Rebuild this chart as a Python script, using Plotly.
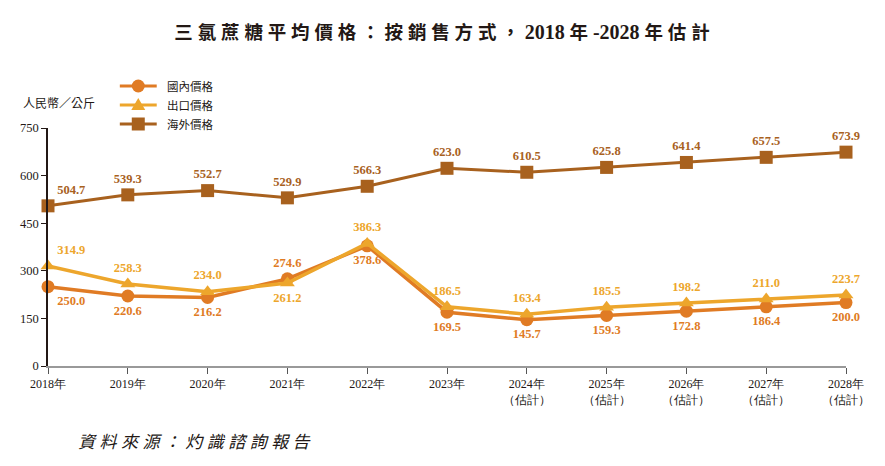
import plotly.graph_objects as go

years = ["2018年", "2019年", "2020年", "2021年", "2022年", "2023年",
         "2024年<br>（估計）", "2025年<br>（估計）", "2026年<br>（估計）",
         "2027年<br>（估計）", "2028年<br>（估計）"]
domestic = [250.0, 220.6, 216.2, 274.6, 378.6, 169.5, 145.7, 159.3, 172.8, 186.4, 200.0]
export = [314.9, 258.3, 234.0, 261.2, 386.3, 186.5, 163.4, 185.5, 198.2, 211.0, 223.7]
overseas = [504.7, 539.3, 552.7, 529.9, 566.3, 623.0, 610.5, 625.8, 641.4, 657.5, 673.9]

dom_pos = ["bottom right", "bottom center", "bottom center", "top center", "bottom center",
           "bottom center", "bottom center", "bottom center", "bottom center", "bottom center", "bottom center"]
exp_pos = ["top right", "top center", "top center", "bottom center", "top center",
           "top center", "top center", "top center", "top center", "top center", "top center"]
ovs_pos = ["top right"] + ["top center"] * 10

C_DOM = "#E07B24"
C_EXP = "#EDA62C"
C_OVS = "#A8611E"
SERIF = "Liberation Serif, DejaVu Serif, serif"
CJK = "Noto Sans CJK TC, Noto Sans CJK SC, sans-serif"

# plot area in page pixels (page is offset by the body margin)
L, R, T, B = 38, 47, 120, 108
PW, PH = 885 - L - R, 466 - T - B
OFF = 8


def px(xp):
    return (xp - OFF - L) / PW


def py(yp):
    return (466 - B - (yp - OFF)) / PH


x = list(range(len(years)))
fig = go.Figure()

fig.add_trace(go.Scatter(
    x=x, y=overseas, name="海外價格", mode="lines+markers+text",
    line=dict(color=C_OVS, width=3), marker=dict(symbol="square", size=13, color=C_OVS),
    text=[f"{v:.1f}" for v in overseas], textposition=ovs_pos,
    textfont=dict(family=SERIF, size=12.5, color=C_OVS, weight="bold"), cliponaxis=False))
fig.add_trace(go.Scatter(
    x=x, y=domestic, name="國內價格", mode="lines+markers+text",
    line=dict(color=C_DOM, width=3.5), marker=dict(symbol="circle", size=13, color=C_DOM),
    text=[f"{v:.1f}" for v in domestic], textposition=dom_pos,
    textfont=dict(family=SERIF, size=12.5, color=C_DOM, weight="bold"), cliponaxis=False))
fig.add_trace(go.Scatter(
    x=x, y=export, name="出口價格", mode="lines+markers+text",
    line=dict(color=C_EXP, width=3.5), marker=dict(symbol="triangle-up", size=13, color=C_EXP),
    text=[f"{v:.1f}" for v in export], textposition=exp_pos,
    textfont=dict(family=SERIF, size=12.5, color=C_EXP, weight="bold"), cliponaxis=False))

sp = "\u2009\u200a"
title_head = sp.join("三氯蔗糖平均價格：按銷售方式，")
title_tail = (sp + "<span style='font-family:Liberation Serif;font-size:20px'>2018</span>" + sp + "年" + sp
              + "<span style='font-family:Liberation Serif;font-size:20px'>-2028</span>" + sp
              + sp.join("年估計"))

fig.update_layout(
    width=885, height=466,
    paper_bgcolor="white", plot_bgcolor="white",
    margin=dict(l=L, r=R, t=T, b=B),
    showlegend=False,
    title=dict(text=title_head + title_tail, x=(442 - OFF) / 885, xanchor="center",
               y=1 - (33 - OFF) / 466, yanchor="middle",
               font=dict(family=CJK, size=18.5, color="#231815", weight="bold")),
    xaxis=dict(range=[0, 10], tickvals=x, ticktext=years, showgrid=False,
               showline=True, linecolor="#999999", linewidth=2,
               ticks="outside", ticklen=6, tickcolor="#555555",
               tickfont=dict(family=SERIF, size=12, color="#231815"), zeroline=False),
    yaxis=dict(range=[0, 750], tickvals=[0, 150, 300, 450, 600, 750], showgrid=False,
               showline=True, linecolor="#231815", linewidth=1.5,
               ticks="outside", ticklen=5, tickcolor="#231815",
               tickfont=dict(family=SERIF, size=12.5, color="#231815"), zeroline=False),
)

# legend drawn manually
legend_items = [("國內價格", C_DOM, "circle"), ("出口價格", C_EXP, "triangle"), ("海外價格", C_OVS, "square")]
for i, (name, col, sym) in enumerate(legend_items):
    yy = 86 + i * 19
    fig.add_shape(type="line", xref="paper", yref="paper",
                  x0=px(118), x1=px(155), y0=py(yy), y1=py(yy),
                  line=dict(color=col, width=3))
    common = dict(xref="paper", yref="paper", xsizemode="pixel", ysizemode="pixel",
                  xanchor=px(136.5), yanchor=py(yy), fillcolor=col, line=dict(width=0))
    if sym == "circle":
        fig.add_shape(type="circle", x0=-6.5, x1=6.5, y0=-6.5, y1=6.5, **common)
    elif sym == "square":
        fig.add_shape(type="rect", x0=-6.5, x1=6.5, y0=-6.5, y1=6.5, **common)
    else:
        fig.add_shape(type="path", path="M -7 -5 L 7 -5 L 0 7 Z", **common)
    fig.add_annotation(xref="paper", yref="paper", x=px(163), y=py(yy),
                       text=name, showarrow=False, xanchor="left", yanchor="middle",
                       font=dict(family=CJK, size=11.5, color="#231815"))

fig.add_annotation(xref="paper", yref="paper", x=px(19), y=py(103),
                   text="人民幣／公斤", showarrow=False, xanchor="left", yanchor="middle",
                   font=dict(family=CJK, size=12, color="#231815"))
fig.add_annotation(xref="paper", yref="paper", x=px(74), y=py(440),
                   text="\u2009\u200a".join("資料來源：灼識諮詢報告"), showarrow=False,
                   xanchor="left", yanchor="middle",
                   font=dict(family=CJK, size=17, color="#231815", style="italic"))

fig.write_html("out.html")
